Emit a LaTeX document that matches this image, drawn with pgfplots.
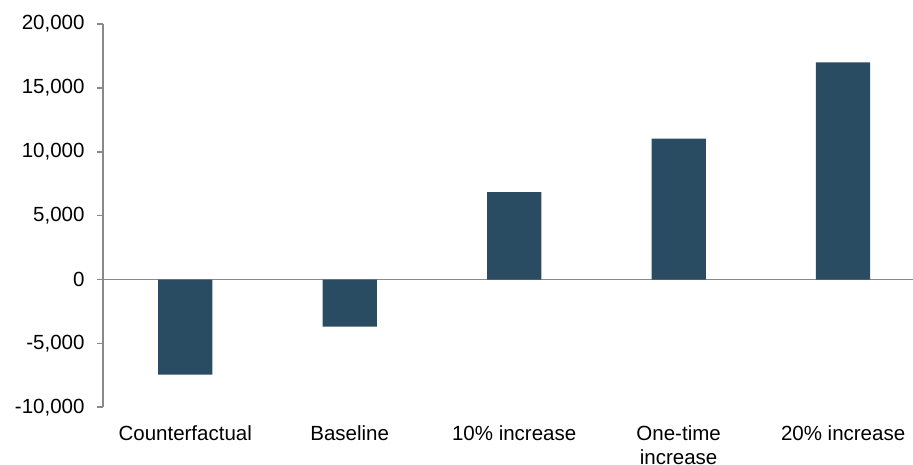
\documentclass[border=0pt]{standalone}
\usepackage{fontspec}
\setmainfont{Liberation Sans}
\usepackage{pgfplots}
\pgfplotsset{compat=1.18}
\definecolor{barblue}{HTML}{294C63}
\definecolor{axisgray}{HTML}{898989}
\begin{document}
\begin{tikzpicture}
\begin{axis}[
  scale only axis,
  width=810pt, height=383.3pt,
  xmin=-0.5, xmax=4.425,
  ymin=-10000, ymax=20000,
  axis lines*=left,
  x axis line style={draw=none},
  y axis line style={axisgray, line width=1.6pt},
  ytick={-10000,-5000,0,5000,10000,15000,20000},
  scaled y ticks=false,
  xtick={0,1,2,3,4},
  xticklabels={Counterfactual, Baseline, 10\% increase, One-time\\increase, 20\% increase},
  x tick style={draw=none},
  y tick style={axisgray, line width=1.6pt},
  tick align=outside,
  major tick length=6pt,
  /pgf/number format/assume math mode=true,
  /pgf/number format/.cd, fixed, precision=0, 1000 sep={,}, /pgfplots/.cd,
  yticklabel style={font=\fontsize{20.5}{24}\selectfont, text=black, xshift=-9pt},
  xticklabel style={font=\fontsize{20.5}{24}\selectfont, text=black, align=center, anchor=north, yshift=-9pt},
  clip=false,
]
  % zero line across the plot
  \draw[axisgray, line width=1.6pt] (axis cs:-0.5,0) -- (axis cs:4.425,0);
  \addplot[ybar, fill=barblue, draw=none, bar width=0.33]
    coordinates {(0,-7450) (1,-3680) (2,6850) (3,11030) (4,17000)};
  \coordinate (bl) at (rel axis cs:0,0);
  \coordinate (tr) at (rel axis cs:1,1);
\end{axis}
\pgfresetboundingbox
\path ([xshift=-103pt,yshift=-57.7pt]bl) rectangle ([yshift=24pt]tr);
\end{tikzpicture}
\end{document}
